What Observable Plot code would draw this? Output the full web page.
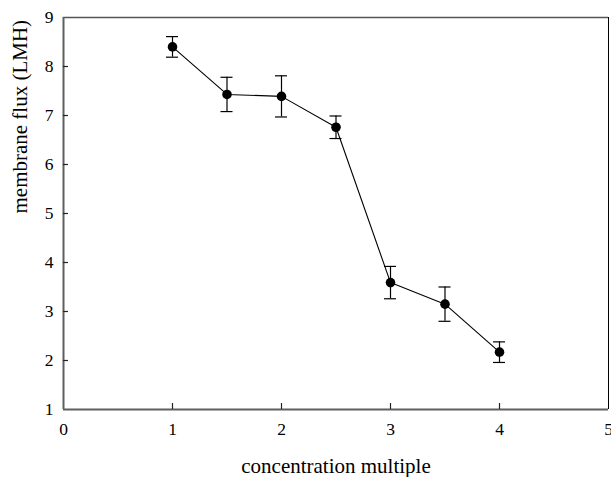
<!DOCTYPE html>
<html>
<head>
<meta charset="utf-8">
<script src="https://cdn.jsdelivr.net/npm/d3@7"></script>
<script src="https://cdn.jsdelivr.net/npm/@observablehq/plot@0.6"></script>
<style>
  html, body { margin: 0; padding: 0; background: #fff; }
  #chart svg { display: block; }
</style>
</head>
<body>
<div id="chart"></div>
<script>
// Data
const concentration = [1, 1.5, 2, 2.5, 3, 3.5, 4];
const flux = [8.40, 7.43, 7.39, 6.76, 3.59, 3.15, 2.17];
const fluxErr = [0.21, 0.35, 0.42, 0.23, 0.33, 0.35, 0.21];
const xTicks = [0, 1, 2, 3, 4, 5];
const yTicks = [1, 2, 3, 4, 5, 6, 7, 8, 9];
const xLabel = "concentration multiple";
const yLabel = "membrane flux (LMH)";

const xDomain = [xTicks[0], xTicks[xTicks.length - 1]];
const yDomain = [yTicks[0], yTicks[yTicks.length - 1]];

const rows = concentration.map((c, i) => ({
  x: c, y: flux[i], lo: flux[i] - fluxErr[i], hi: flux[i] + fluxErr[i]
}));

const font = "'Liberation Serif', 'Times New Roman', serif";

const chart = Plot.plot({
  width: 611,
  height: 477,
  marginLeft: 63,
  marginRight: 3,
  marginTop: 17,
  marginBottom: 68,
  style: { fontFamily: font, fontSize: "17.5px", background: "#fff", color: "#000" },
  x: { domain: xDomain, label: null },
  y: { domain: yDomain, label: null },
  marks: [
    // frame
    Plot.ruleY([yDomain[1]], { stroke: "#555", strokeWidth: 1.6 }),
    Plot.ruleX([xDomain[1]], { stroke: "#000", strokeWidth: 1 }),
    Plot.ruleX([xDomain[0]], { stroke: "#5f5f5f", strokeWidth: 2 }),
    Plot.ruleY([yDomain[0]], { stroke: "#5f5f5f", strokeWidth: 2 }),
    // inward tick marks
    Plot.ruleX(xTicks.slice(1, -1), { x: d => d, y1: () => yDomain[0], y2: () => yDomain[0], insetTop: -6, stroke: "#222", strokeWidth: 1.2 }),
    Plot.ruleY(yTicks.slice(1, -1), { y: d => d, x1: () => xDomain[0], x2: () => xDomain[0], insetRight: -5, stroke: "#222", strokeWidth: 1.2 }),
    // tick labels
    Plot.axisX({ ticks: xTicks, tickSize: 0, tickPadding: 13, tickFormat: d3.format("d"), label: null, fontSize: 17.5 }),
    Plot.axisY({ ticks: yTicks, tickSize: 0, tickPadding: 10, tickFormat: d3.format("d"), label: null, fontSize: 17.5 }),
    // axis titles
    Plot.text([xLabel], { text: d => d, frameAnchor: "bottom", lineAnchor: "middle", dy: 57, fontSize: 21, fill: "#000" }),
    Plot.text([yLabel], { text: d => d, frameAnchor: "left", lineAnchor: "middle", rotate: -90, dx: -43, fontSize: 21, fill: "#000" }),
    // error bars
    Plot.ruleX(rows, { x: "x", y1: "lo", y2: "hi", stroke: "#000", strokeWidth: 1.2 }),
    Plot.ruleY(rows, { y: "lo", x1: "x", x2: "x", insetLeft: -6, insetRight: -6, stroke: "#000", strokeWidth: 1.2 }),
    Plot.ruleY(rows, { y: "hi", x1: "x", x2: "x", insetLeft: -6, insetRight: -6, stroke: "#000", strokeWidth: 1.2 }),
    // series
    Plot.line(rows, { x: "x", y: "y", stroke: "#000", strokeWidth: 1.1 }),
    Plot.dot(rows, { x: "x", y: "y", r: 4.8, fill: "#000", stroke: "none" })
  ]
});

document.getElementById("chart").appendChild(chart);
</script>
</body>
</html>
